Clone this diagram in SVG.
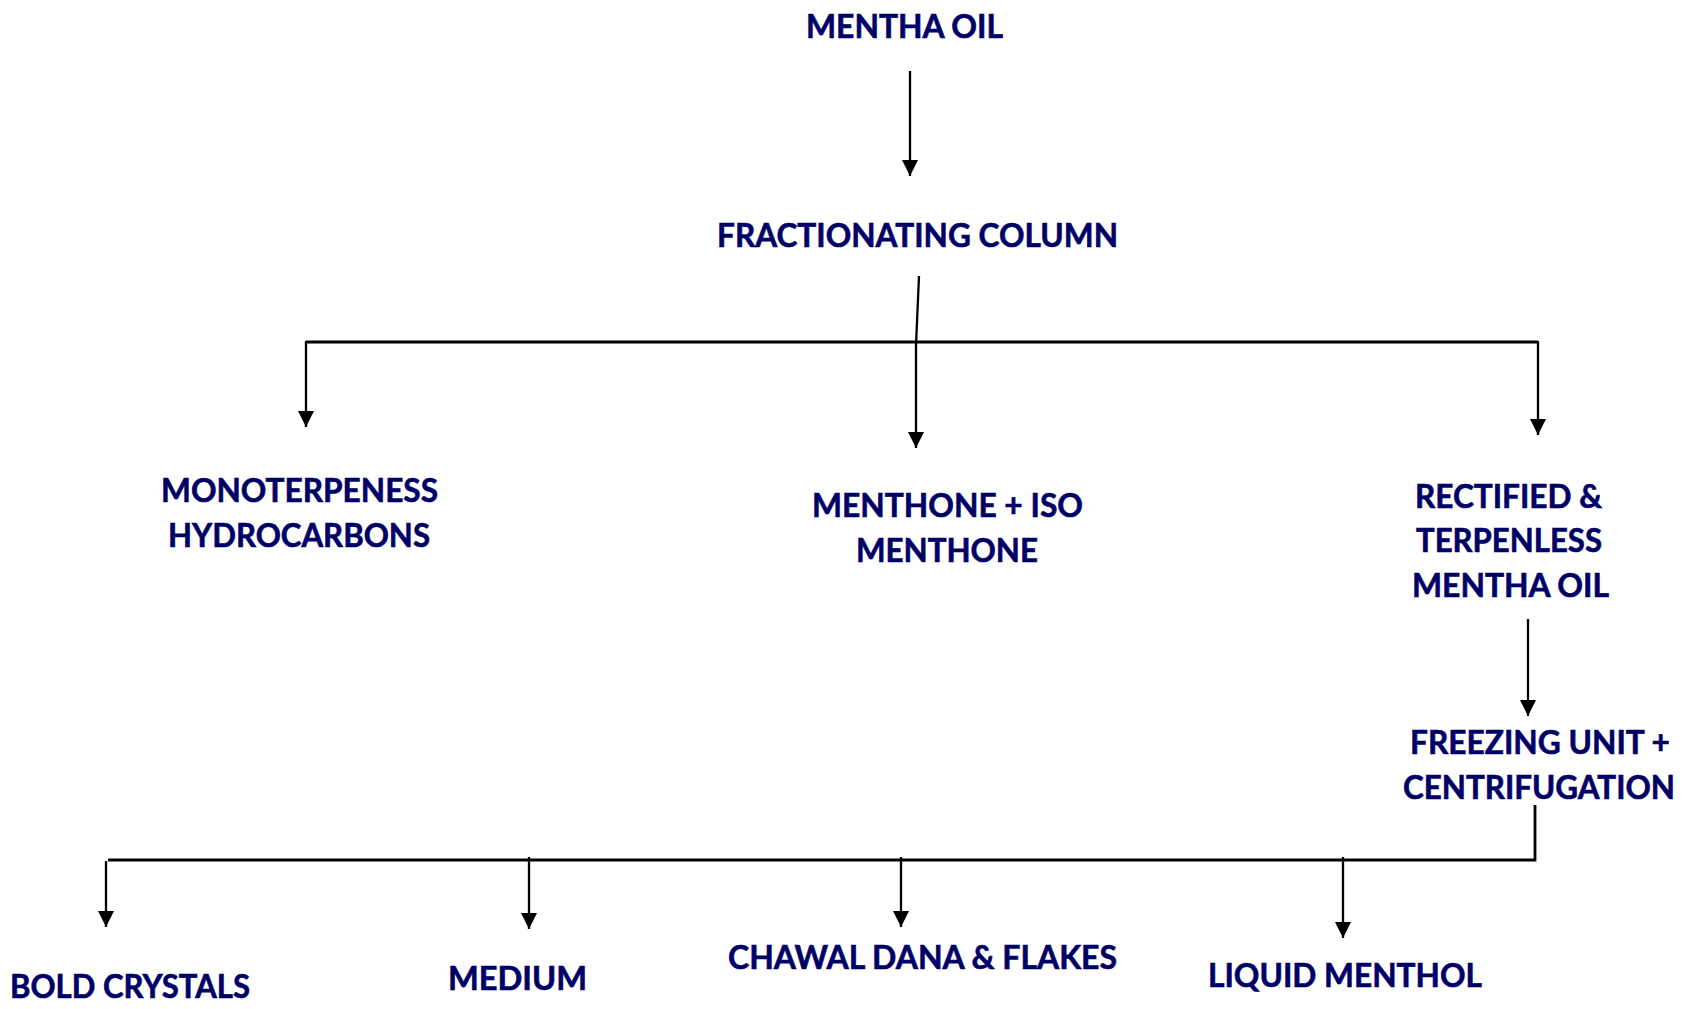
<svg xmlns="http://www.w3.org/2000/svg" width="1682" height="1009" viewBox="0 0 1682 1009">
<style>
  .lbl { font-family: Lato, "Open Sans", "Liberation Sans", sans-serif; font-weight: 700; font-size: 32px; fill: #000066; stroke: #000066; stroke-width: 0.6; }
  .c { fill: none; stroke: #000; stroke-width: 2.3; }
  .h { fill: none; stroke: #000; stroke-width: 2.8; }
  .a { marker-end: url(#ah); }
</style>
<defs>
  <marker id="ah" markerUnits="userSpaceOnUse" viewBox="0 -8 16 16" refX="16" refY="0" markerWidth="16" markerHeight="16" orient="auto">
    <path d="M0,-8 L16,0 L0,8 z" fill="#000"/>
  </marker>
</defs>
<rect width="1682" height="1009" fill="#fff"/>
<g id="connectors">
  <line class="c a" x1="910" y1="71" x2="910" y2="176"/>
  <polyline class="c a" points="919,276 916,345 916,448"/>
  <line class="h" x1="306" y1="342" x2="1538" y2="342"/>
  <line class="c a" x1="306" y1="341" x2="306" y2="427"/>
  <line class="c a" x1="1538" y1="341" x2="1538" y2="435"/>
  <line class="c a" x1="1528" y1="619" x2="1528" y2="716"/>
  <polyline class="h" points="1535,805 1535,860 108,860"/>
  <line class="c a" x1="106" y1="861" x2="106" y2="927"/>
  <line class="c a" x1="529" y1="857" x2="529" y2="929"/>
  <line class="c a" x1="901" y1="857" x2="901" y2="927"/>
  <line class="c a" x1="1343" y1="857" x2="1343" y2="938"/>
</g>
<g id="mentha-oil"><text class="lbl" x="806" y="38" textLength="197" lengthAdjust="spacingAndGlyphs">MENTHA OIL</text></g>
<g id="fractionating-column"><text class="lbl" x="717" y="247" textLength="401" lengthAdjust="spacingAndGlyphs">FRACTIONATING COLUMN</text></g>
<g id="monoterpeness">
  <text class="lbl" x="161" y="502" textLength="277" lengthAdjust="spacingAndGlyphs">MONOTERPENESS</text>
  <text class="lbl" x="168" y="547" textLength="262" lengthAdjust="spacingAndGlyphs">HYDROCARBONS</text>
</g>
<g id="menthone">
  <text class="lbl" x="812" y="517" textLength="271" lengthAdjust="spacingAndGlyphs">MENTHONE + ISO</text>
  <text class="lbl" x="856" y="562" textLength="182" lengthAdjust="spacingAndGlyphs">MENTHONE</text>
</g>
<g id="rectified">
  <text class="lbl" x="1415" y="508" textLength="187" lengthAdjust="spacingAndGlyphs">RECTIFIED &amp;</text>
  <text class="lbl" x="1416" y="552" textLength="186" lengthAdjust="spacingAndGlyphs">TERPENLESS</text>
  <text class="lbl" x="1412" y="597" textLength="197" lengthAdjust="spacingAndGlyphs">MENTHA OIL</text>
</g>
<g id="freezing-unit">
  <text class="lbl" x="1410" y="754" textLength="260" lengthAdjust="spacingAndGlyphs">FREEZING UNIT +</text>
  <text class="lbl" x="1403" y="799" textLength="272" lengthAdjust="spacingAndGlyphs">CENTRIFUGATION</text>
</g>
<g id="bold-crystals"><text class="lbl" x="10" y="998" textLength="240" lengthAdjust="spacingAndGlyphs">BOLD CRYSTALS</text></g>
<g id="medium"><text class="lbl" x="448" y="990" textLength="139" lengthAdjust="spacingAndGlyphs">MEDIUM</text></g>
<g id="chawal-dana"><text class="lbl" x="728" y="969" textLength="389" lengthAdjust="spacingAndGlyphs">CHAWAL DANA &amp; FLAKES</text></g>
<g id="liquid-menthol"><text class="lbl" x="1208" y="987" textLength="274" lengthAdjust="spacingAndGlyphs">LIQUID MENTHOL</text></g>
</svg>
